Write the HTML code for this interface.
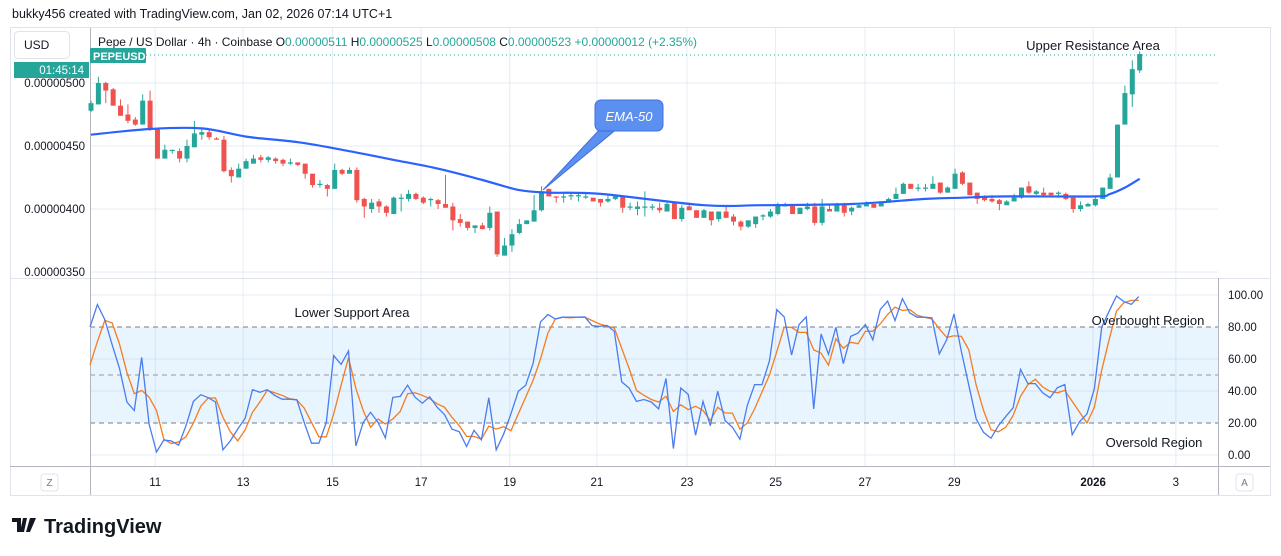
<!DOCTYPE html>
<html><head><meta charset="utf-8">
<style>
html,body{margin:0;padding:0;background:#fff;}
body{width:1281px;height:556px;overflow:hidden;position:relative;font-family:"Liberation Sans",sans-serif;}
svg{position:absolute;left:0;top:0;}
text{font-family:"Liberation Sans",sans-serif;}
</style></head>
<body>
<svg id="chart" width="1281" height="556" viewBox="0 0 1281 556">
  <rect x="0" y="0" width="1281" height="556" fill="#ffffff"/>
  <text x="12" y="18" font-size="12.5" fill="#131722">bukky456 created with TradingView.com, Jan 02, 2026 07:14 UTC+1</text>
  <rect x="10.5" y="27.5" width="1260" height="468" fill="none" stroke="#e0e3eb"/>
  <g id="grid"></g>
  <rect x="90" y="327" width="1128" height="96" fill="#2196f3" fill-opacity="0.1"/>
  <line x1="90" y1="327" x2="1218" y2="327" stroke="#787b86" stroke-dasharray="5,4"/>
  <line x1="90" y1="375" x2="1218" y2="375" stroke="#9598a1" stroke-dasharray="5,4"/>
  <line x1="90" y1="423" x2="1218" y2="423" stroke="#787b86" stroke-dasharray="5,4"/>
  <line x1="10" y1="278.5" x2="1270" y2="278.5" stroke="#e0e3eb"/>
  <line x1="90.5" y1="28" x2="90.5" y2="495" stroke="#b2b5be"/>
  <line x1="1218.5" y1="278" x2="1218.5" y2="495" stroke="#b2b5be"/>
  <line x1="10" y1="466.5" x2="1270" y2="466.5" stroke="#b2b5be"/>
  <line x1="90" y1="55" x2="1218" y2="55" stroke="#26a69a" stroke-dasharray="1,3"/>
  <g id="candles"></g>
  <path id="ema" fill="none" stroke="#2962ff" stroke-width="2.2"/>
  <g id="stoch"></g>
  <g>
    <path d="M603 126 L543 190 L618 128 Z" fill="#5b8ff0" stroke="#3d6fe0" stroke-width="1"/>
    <rect x="595" y="100" width="68" height="31" rx="6" fill="#5b8ff0" stroke="#3d6fe0"/>
    <text x="629" y="121" font-size="13" font-style="italic" fill="#fff" text-anchor="middle">EMA-50</text>
  </g>
  <text x="1093" y="50" font-size="13" fill="#131722" text-anchor="middle">Upper Resistance Area</text>
  <text x="352" y="317" font-size="13" fill="#131722" text-anchor="middle">Lower Support Area</text>
  <text x="1148" y="325" font-size="13" fill="#131722" text-anchor="middle">Overbought Region</text>
  <text x="1154" y="447" font-size="13" fill="#131722" text-anchor="middle">Oversold Region</text>
  <g font-size="12" textLength="600">
    <text x="98" y="46" fill="#131722" textLength="599" lengthAdjust="spacingAndGlyphs">Pepe / US Dollar · 4h · Coinbase  <tspan>O</tspan><tspan fill="#26a69a">0.00000511</tspan>  <tspan>H</tspan><tspan fill="#26a69a">0.00000525</tspan>  <tspan>L</tspan><tspan fill="#26a69a">0.00000508</tspan>  <tspan>C</tspan><tspan fill="#26a69a">0.00000523</tspan>  <tspan fill="#26a69a">+0.00000012 (+2.35%)</tspan></text>
  </g>
  <g>
    <rect x="14.5" y="31.5" width="55" height="27" rx="4" fill="#fff" stroke="#e0e3eb"/>
    <text x="24" y="49" font-size="12" fill="#131722">USD</text>
  </g>
  <g>
    <rect x="90" y="48" width="56" height="15" fill="#26a69a" rx="1"/>
    <text x="93" y="60" font-size="11" font-weight="bold" fill="#fff">PEPEUSD</text>
  </g>
  <g>
    <rect x="14" y="62" width="75" height="16" fill="#26a69a"/>
    <text x="84" y="74" font-size="11.5" fill="#fff" text-anchor="end">01:45:14</text>
  </g>
  <g id="axes" font-size="11.5" fill="#131722"></g>
  <g>
    <rect x="1236" y="474" width="17" height="17" rx="3" fill="#fff" stroke="#e0e3eb"/>
    <text x="1244.5" y="486" font-size="10" fill="#787b86" text-anchor="middle">A</text>
  </g>
  <g>
    <rect x="41" y="474" width="17" height="17" rx="3" fill="#fff" stroke="#e0e3eb"/>
    <text x="49.5" y="486" font-size="10" fill="#787b86" text-anchor="middle">Z</text>
  </g>
  <g>
    <path d="M12 518 h9 v14 h-4 v-10 h-5z M23 518 h4 l-3 14 h-4z M30 518 h6 l-6 14 h-4z" fill="#131722"/>
    <text x="44" y="533" font-size="20" font-weight="bold" fill="#131722">TradingView</text>
  </g>
</svg>
<script>
// Price data in units of 1e-8 USD
const opens=[478,483,500,495,482,475,471,467,486,464,440,446,446,440,449,459,461,456,455,431,425,432,436,441,439,440,439,436,437,436,428,419,419,416,431,428,431,408,400,406,402,396,408,408,412,409,407,407,404,402,392,390,385,387,385,398,363,371,381,388,390,399,416,410,409,410,410,409,409,408,406,408,410,401,400,401,401,401,398,405,392,402,399,393,398,392,398,394,390,386,388,394,394,396,402,403,396,400,402,389,400,398,403,398,401,402,404,402,405,408,412,420,416,416,416,421,413,416,429,421,413,410,408,407,403,406,409,418,412,413,413,412,412,409,400,402,403,408,416,425,467,491,510];
const highs=[486,505,501,496,487,483,473,491,494,464,451,447,448,455,470,464,463,457,458,433,436,440,443,443,442,441,440,440,437,436,428,423,420,436,432,433,433,409,408,408,403,410,412,415,413,410,409,408,427,405,396,390,387,389,402,398,377,384,392,391,411,418,416,410,412,413,413,412,409,408,411,411,410,405,406,414,404,405,405,406,403,405,399,400,398,398,402,396,391,391,394,396,400,405,405,404,401,405,405,408,403,405,405,402,404,406,404,406,409,417,421,420,420,420,426,421,418,432,430,421,413,411,411,408,407,412,417,422,415,417,413,414,413,409,406,405,410,417,428,467,498,518,525];
const lows=[477,483,484,482,474,468,466,467,462,440,440,444,437,437,449,455,455,455,429,421,425,432,436,437,437,436,434,435,434,424,417,417,410,416,427,428,405,393,397,397,394,396,398,406,407,404,402,400,401,383,386,383,381,384,383,362,363,366,380,388,390,398,410,405,405,407,406,408,406,402,405,407,397,399,395,394,399,397,398,392,390,399,393,393,387,390,393,387,383,385,385,391,393,395,402,396,396,399,387,387,398,398,394,395,401,402,401,402,405,408,412,416,414,414,416,412,413,416,419,411,404,406,405,399,403,406,408,412,411,410,410,410,407,397,398,402,402,408,416,425,467,481,508];
const closes=[484,500,494,482,474,470,467,486,463,440,447,447,440,450,460,461,457,455,430,426,432,438,440,439,441,438,436,437,435,428,419,420,416,431,428,431,407,402,405,402,397,409,409,412,408,405,408,404,401,391,389,385,387,384,397,364,371,380,388,391,399,414,410,409,410,411,411,410,406,405,408,410,401,402,402,402,402,399,404,392,401,399,393,399,391,398,393,390,386,391,394,395,398,403,403,396,401,402,389,402,398,403,397,401,403,404,401,405,408,412,420,416,417,417,420,413,417,428,420,411,408,407,406,404,406,409,417,413,414,411,411,413,408,400,403,404,408,417,425,467,492,511,523];
// EMA-50 sampled at candle indices
const emaIdx=[0,8,15,21,28,34,41,47,53,58,62,69,83,91,103,113,118,124,136,138,140,142];
const emaVal=[459,463.5,464,457.5,453,447,439,432,423,415,413,412,403,403,404,408,409,410,410,412,417,424];
// Stochastic %K and %D
const stochK=[80,94,84.6,68.8,54.1,33.1,27.8,61,19.4,1.9,9.3,8.8,6.1,18.3,33.5,37.7,35.8,33.1,3.2,8.8,16.2,22.9,40.8,39.2,40.8,37.3,34.9,34.9,34.5,20.4,7.4,7.4,20.4,62.1,56.6,65,5.7,20.4,26.7,20.4,10.7,36,36.6,43.6,36.2,32.4,36.4,29.9,25.3,16.2,14.5,5.3,15.4,9.5,35.8,3.2,13,25.7,39.8,43.6,57.3,83.2,87.8,85,86.1,86.1,86.1,86.3,80.8,80.4,81,77.3,45.7,41.9,33.5,34.7,33.1,28.8,47.8,4,41.9,37.9,12.4,33.5,18.3,39.8,21.5,17.3,9.9,31,44,44,58.7,90.9,86.3,62.5,81.5,86.3,28.8,75.6,62.9,79.8,57.1,74.1,76.2,81.5,72,90.9,96.2,84,97.7,88.8,86.1,86.1,85.7,63.2,72,88.2,64.6,43.6,22.5,14.1,10.5,18.3,24,29.5,53.5,44.6,44.6,38.9,35.8,42.1,44,12.6,20.8,25.7,41.5,79.8,89.9,99.4,95.8,94.1,99];
const stochD=[56.2,70.9,84.2,82.5,69.3,51.6,38.3,40.4,36.2,27.8,9.9,7.2,8.2,11.4,20,30.5,35.6,35.6,23.6,14.5,8.8,15.6,26.7,33.1,40.4,38.9,37.3,35.2,34.5,29.3,20.4,11.4,11.4,25.7,43.6,60.8,41.5,27.8,17.3,22.5,19.4,22.5,27.2,38.3,38.9,37.3,35.2,32,29.9,23.6,18.3,11.6,11.6,9.9,18,16.2,17.7,15.2,25.7,36.2,46.7,60,76.2,85,86.1,85.7,86.1,86.1,84,81.9,80.6,79.4,66.7,54.1,40.4,37.3,34.7,33.1,36.6,27.2,31.4,28.4,30.5,27.8,21.5,29.9,26.3,26.1,16.2,20,28.8,39.4,49.9,64.6,79.8,79.8,76.6,76.6,65.7,63.6,56.2,72.6,66.7,70.5,69.5,77.3,77.3,81.9,87.8,92.4,90.3,90.9,87.4,86.1,85,78.9,73.5,74.5,74.1,65.7,43.6,27.8,15.8,14.5,17.3,24.6,36.6,44,47.4,42.5,39.8,38.9,40.4,33.5,26.7,20,29.9,53,72,89.9,95.2,96.6,96.6];
const priceTicks=[500,450,400,350];
const priceTickLabels=["0.00000500","0.00000450","0.00000400","0.00000350"];
const stochTicks=[100,80,60,40,20,0];
const stochTickLabels=["100.00","80.00","60.00","40.00","20.00","0.00"];
const dateTickIdx=[8.7,20.6,32.7,44.7,56.7,68.5,80.7,92.7,104.8,116.9,135.7,146.9];
const dateTickLabels=["11","13","15","17","19","21","23","25","27","29","2026","3"];

const NS="http://www.w3.org/2000/svg";
function xOf(i){return 91+i*7.385;}
function yP(p){return 83+(500-p)*1.26;}
function yS(v){return 455-v*1.6;}
function mk(tag,attrs,parent){const e=document.createElementNS(NS,tag);for(const k in attrs)e.setAttribute(k,attrs[k]);parent.appendChild(e);return e;}

const grid=document.getElementById('grid');
const axes=document.getElementById('axes');
dateTickIdx.forEach((d,j)=>{
  const x=xOf(d);
  const gl=mk('line',{x1:x,y1:28,x2:x,y2:466,stroke:'#e6ecf4'},grid);
  
  
  const t=mk('text',{x:x,y:486,'text-anchor':'middle','font-size':'11.5',fill:'#131722','font-weight':dateTickLabels[j]==='2026'?'bold':'normal'},axes);
  t.textContent=dateTickLabels[j];
  
  
});
priceTicks.forEach((p,j)=>{
  const y=yP(p);
  const gl=mk('line',{x1:90,y1:y,x2:1218,y2:y,stroke:'#e6ecf4'},grid);
  
  
  const t=mk('text',{x:85,y:y+4,'text-anchor':'end'},axes);
  t.textContent=priceTickLabels[j];
  
  
});
stochTicks.forEach((v,j)=>{
  const y=yS(v);
  if(v!==80&&v!==20){
    const gl=mk('line',{x1:90,y1:y,x2:1218,y2:y,stroke:'#e6ecf4'},grid);
    
    
  }
  const t=mk('text',{x:1228,y:y+4},axes);
  t.textContent=stochTickLabels[j];
  
  
});

const cg=document.getElementById('candles');
for(let i=0;i<opens.length;i++){
  const up=closes[i]>=opens[i];
  const col=up?'#26a69a':'#ef5350';
  const x=xOf(i);
  const g=mk('g',{},cg);
  
  
  mk('line',{x1:x,y1:yP(highs[i]),x2:x,y2:yP(lows[i]),stroke:col,'stroke-width':1},g);
  const top=yP(Math.max(opens[i],closes[i])),bot=yP(Math.min(opens[i],closes[i]));
  mk('rect',{x:x-2.5,y:top,width:5,height:Math.max(1,bot-top),fill:col},g);
}
// smooth EMA with Catmull-Rom
const pts=emaIdx.map((k,j)=>[xOf(k),yP(emaVal[j])]);
let d='M'+pts[0][0].toFixed(1)+' '+pts[0][1].toFixed(1);
for(let j=0;j<pts.length-1;j++){
  const p0=pts[Math.max(0,j-1)],p1=pts[j],p2=pts[j+1],p3=pts[Math.min(pts.length-1,j+2)];
  const c1=[p1[0]+(p2[0]-p0[0])/6,p1[1]+(p2[1]-p0[1])/6];
  const c2=[p2[0]-(p3[0]-p1[0])/6,p2[1]-(p3[1]-p1[1])/6];
  d+=' C'+c1[0].toFixed(1)+' '+c1[1].toFixed(1)+' '+c2[0].toFixed(1)+' '+c2[1].toFixed(1)+' '+p2[0].toFixed(1)+' '+p2[1].toFixed(1);
}
document.getElementById('ema').setAttribute('d',d);

const sg=document.getElementById('stoch');
function sline(arr,col,name){
  let p='';arr.forEach((v,k)=>{p+=(k?'L':'M')+(90+k*7.385).toFixed(1)+' '+yS(v).toFixed(1)+' ';});
  const e=mk('path',{d:p,fill:'none',stroke:col,'stroke-width':1.3},sg);
  
  
}
sline(stochD,'#f57c1f','stoch-d-line');
sline(stochK,'#4a7cf0','stoch-k-line');
</script>
</body></html>
